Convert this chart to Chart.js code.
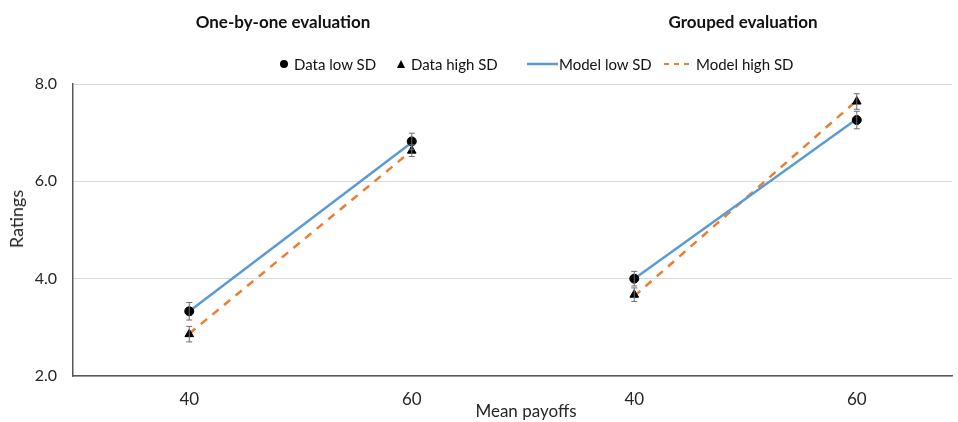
<!DOCTYPE html>
<html lang="en">
  <head>
    <meta charset="UTF-8" />
    <script src="https://cdn.jsdelivr.net/npm/chart.js@4.4.0/dist/chart.umd.min.js"></script>
    <style>
      body { margin: 0; background: #fff; font-family: Lato, "Open Sans", sans-serif; color: #262626; }
      #wrap { position: relative; width: 958px; height: 422px; }
      .lbl { position: absolute; white-space: nowrap; transform: translate(-50%, -50%); }
      .panel { font-weight: bold; font-size: 17px; color: #111; top: 21px; }
      .leg { position: absolute; top: 64px; transform: translateY(-50%); font-size: 15px; white-space: nowrap; color: #111; }
      svg { position: absolute; }
    </style>
  </head>
  <body>
    <div id="wrap">
      <canvas id="ratingsChart" width="958" height="422"></canvas>
      <div class="lbl panel" id="panel0" style="left: 283px"></div>
      <div class="lbl panel" id="panel1" style="left: 743px"></div>
      <div class="lbl" id="xTitle" style="left: 526px; top: 410px; font-size: 17px"></div>
      <div class="lbl" id="yTitle" style="left: 16px; top: 219px; font-size: 18px; transform: translate(-50%, -50%) rotate(-90deg)"></div>

      <!-- legend -->
      <svg style="left: 279px; top: 59px" width="10" height="10"><circle cx="5" cy="5" r="4" fill="#000" /></svg>
      <div class="leg" style="left: 294px">Data low SD</div>
      <svg style="left: 396px; top: 59px" width="10" height="10"><polygon points="5,1 9,9 1,9" fill="#000" /></svg>
      <div class="leg" style="left: 411px">Data high SD</div>
      <svg style="left: 527px; top: 62px" width="32" height="4"><line x1="0" y1="2" x2="31" y2="2" stroke="#5b9bd5" stroke-width="2.5" /></svg>
      <div class="leg" style="left: 559px">Model low SD</div>
      <svg style="left: 664px; top: 62px" width="32" height="4"><line x1="0" y1="2" x2="30" y2="2" stroke="#ed7d31" stroke-width="2" stroke-dasharray="5,5" /></svg>
      <div class="leg" style="left: 696px">Model high SD</div>
    </div>

    <script>
      const panels = ["One-by-one evaluation", "Grouped evaluation"];
      const payoffs = ["40", "60", "40", "60"];
      const legendNames = ["Data low SD", "Data high SD", "Model low SD", "Model high SD"];

      const dataLowSD = [3.33, 6.82, 4.0, 7.26];
      const dataHighSD = [2.86, 6.63, 3.67, 7.64];
      const errLowSD = [0.18, 0.17, 0.15, 0.18];
      const errHighSD = [0.16, 0.12, 0.14, 0.16];
      const modelLowSD = [3.33, 6.8, 4.0, 7.28];
      const modelHighSD = [2.87, 6.63, 3.64, 7.66];

      const yTicks = [2, 4, 6, 8];

      document.getElementById("panel0").textContent = panels[0];
      document.getElementById("panel1").textContent = panels[1];
      document.getElementById("xTitle").textContent = "Mean payoffs";
      document.getElementById("yTitle").textContent = "Ratings";

      const toPoints = (arr) => arr.map((v, i) => ({ x: i + 1, y: v }));

      // no line between the two panels
      const gapColor = (color) => (ctx) => (ctx.p0DataIndex === 1 ? "rgba(0,0,0,0)" : color);

      const errorBars = {
        id: "errorBars",
        afterDatasetsDraw(chart) {
          const { ctx, scales } = chart;
          const sets = [
            [dataLowSD, errLowSD],
            [dataHighSD, errHighSD],
          ];
          ctx.save();
          ctx.strokeStyle = "#6f6f6f";
          ctx.lineWidth = 1;
          sets.forEach(([vals, errs]) => {
            vals.forEach((v, i) => {
              const x = scales.x.getPixelForValue(i + 1);
              const y1 = scales.y.getPixelForValue(v - errs[i]);
              const y2 = scales.y.getPixelForValue(v + errs[i]);
              ctx.beginPath();
              ctx.moveTo(x, y1);
              ctx.lineTo(x, y2);
              ctx.moveTo(x - 3, y1);
              ctx.lineTo(x + 3, y1);
              ctx.moveTo(x - 3, y2);
              ctx.lineTo(x + 3, y2);
              ctx.stroke();
            });
          });
          ctx.restore();
        },
      };

      const config = {
        type: "line",
        data: {
          datasets: [
            {
              label: legendNames[0],
              data: toPoints(dataLowSD),
              showLine: false,
              pointStyle: "circle",
              pointRadius: 4.5,
              pointBackgroundColor: "#000",
              pointBorderColor: "#000",
            },
            {
              label: legendNames[1],
              data: toPoints(dataHighSD),
              showLine: false,
              pointStyle: "triangle",
              pointRadius: 5,
              pointBackgroundColor: "#000",
              pointBorderColor: "#000",
            },
            {
              label: legendNames[2],
              data: toPoints(modelLowSD),
              borderColor: "#5b9bd5",
              borderWidth: 2.5,
              pointRadius: 0,
              segment: { borderColor: gapColor("#5b9bd5") },
            },
            {
              label: legendNames[3],
              data: toPoints(modelHighSD),
              borderColor: "#ed7d31",
              borderWidth: 2.5,
              borderDash: [8, 7],
              pointRadius: 0,
              segment: { borderColor: gapColor("#ed7d31") },
            },
          ],
        },
        options: {
          responsive: false,
          animation: false,
          devicePixelRatio: 1,
          layout: { padding: { top: 84, left: 0, right: 0, bottom: 0 } },
          plugins: {
            legend: { display: false },
            tooltip: { enabled: false },
          },
          scales: {
            x: {
              type: "linear",
              min: 0.4775,
              max: 4.428,
              afterBuildTicks: (scale) => {
                scale.ticks = payoffs.map((_, i) => ({ value: i + 1 }));
              },
              afterFit: (scale) => {
                scale.height = 46;
              },
              grid: { display: false, drawTicks: false },
              border: { color: "#595959", width: 1.5 },
              ticks: {
                padding: 13,
                color: "#262626",
                font: { family: "Lato", size: 17 },
                callback: (v) => payoffs[v - 1],
              },
            },
            y: {
              min: 2,
              max: 8,
              afterBuildTicks: (scale) => {
                scale.ticks = yTicks.map((v) => ({ value: v }));
              },
              afterFit: (scale) => {
                scale.width = 73;
              },
              grid: { color: "#d9d9d9", drawTicks: false },
              border: { color: "#595959", width: 1.5 },
              ticks: {
                padding: 16,
                color: "#262626",
                font: { family: "Lato", size: 16 },
                callback: (v) => v.toFixed(1),
              },
            },
          },
        },
        plugins: [errorBars],
      };

      document.addEventListener("DOMContentLoaded", () => {
        new Chart(document.getElementById("ratingsChart"), config);
      });
    </script>
  </body>
</html>
